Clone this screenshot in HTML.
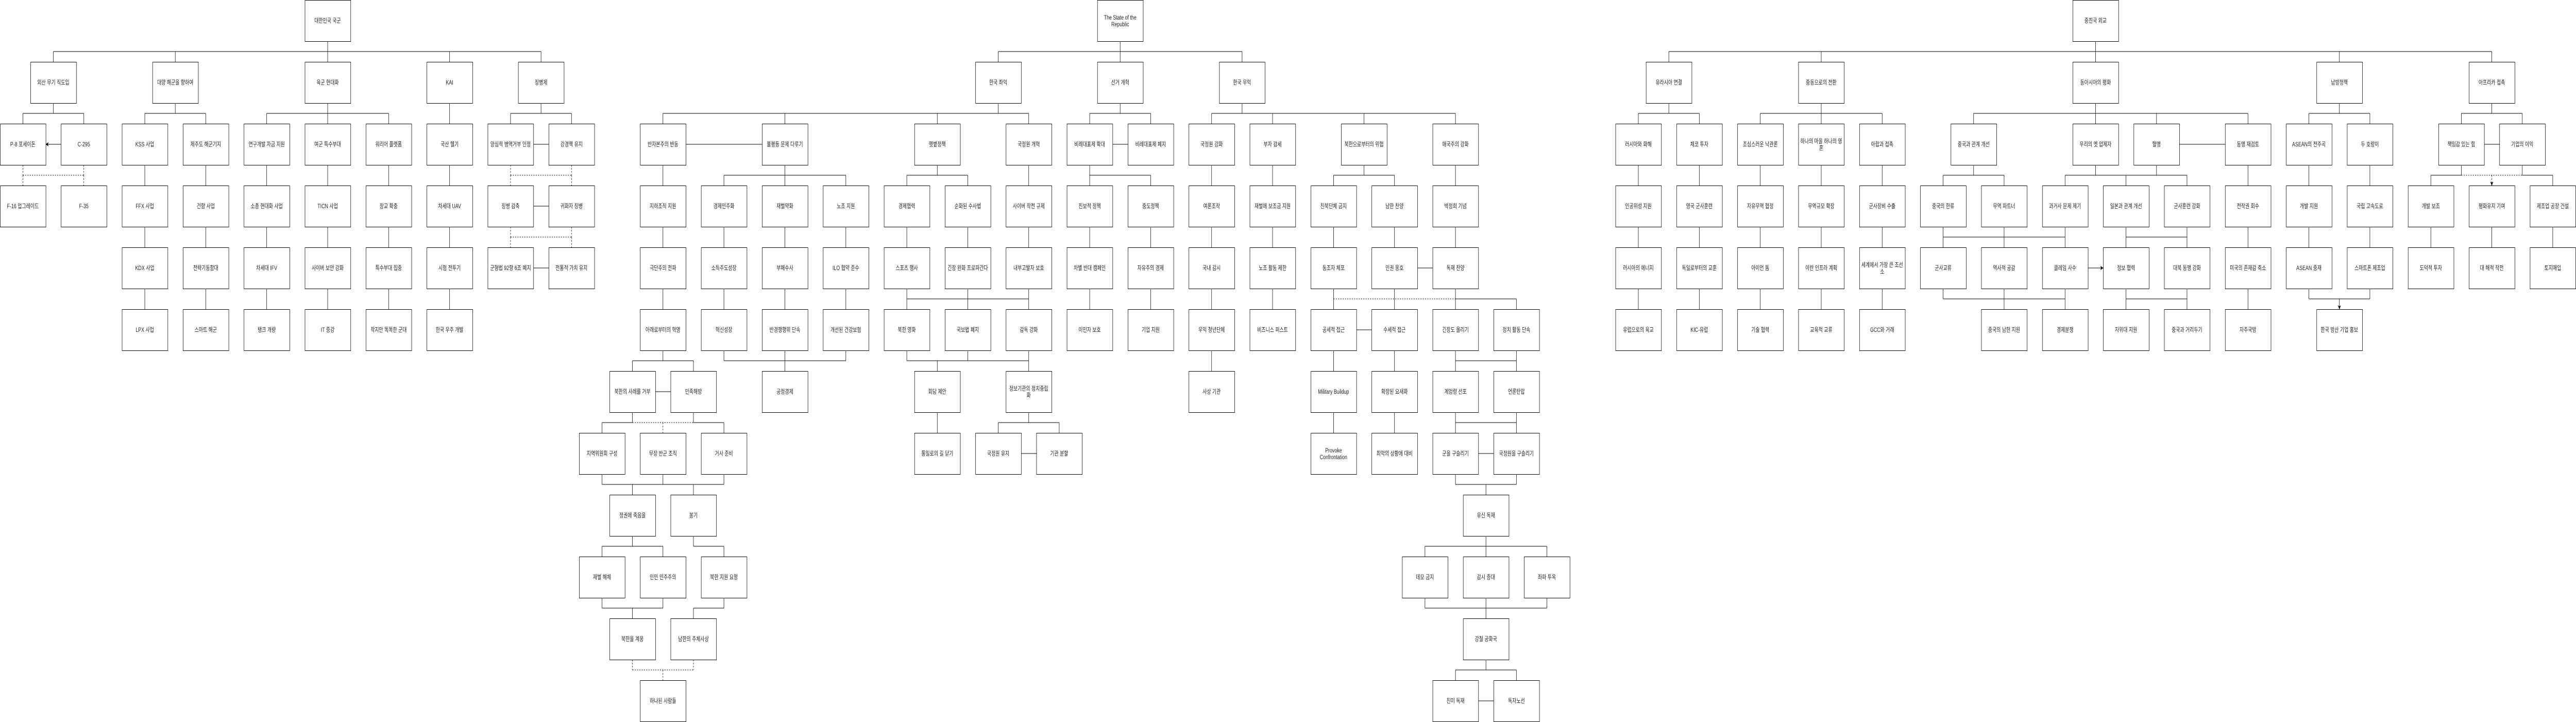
<!DOCTYPE html>
<html><head><meta charset="utf-8">
<style>
html,body{margin:0;padding:0;background:#fff;overflow:hidden;width:100%;height:100%;}
svg{position:fixed;left:0;top:0;width:100vw;height:100vh;display:block;}
text{font-family:"Liberation Sans","Noto Sans CJK KR",sans-serif;font-size:12px;fill:#222;text-anchor:middle;}
</style></head><body>
<svg viewBox="0 0 6761 1401" preserveAspectRatio="none" xmlns="http://www.w3.org/2000/svg">
<defs>
<marker id="a" markerWidth="8" markerHeight="8" refX="7.5" refY="4" orient="auto-start-reverse" markerUnits="userSpaceOnUse"><path d="M0,0L8,4L0,8L2,4z" fill="#000"/></marker>
</defs>
<rect x="0" y="0" width="6761" height="1401" fill="#fff"/>
<g stroke="#000" fill="none" stroke-width="1">
<path d="M860 80V100M140 100H1420M140 200V220M60 220H220M460 200V220M380 220H540M860 200V220M700 220H1020M1420 200V220M1340 220H1500"/>
<path d="M2940 80V100M2620 100H3260M2620 200V220M1740 220H2700M2940 200V220M2860 220H3020M3260 200V220M3180 220H3820
M2060 320V340M1900 340H2220M2460 320V340M2380 340H2540M2860 320V340H3020M3580 320V340M3500 340H3660
M2380 560V580M2540 560V580M2700 560V580M2380 580H2700M3500 560V580M3820 580H3980
M1740 680V700M1660 700H1820M1900 680V700M2060 680V700M2220 680V700M1900 700H2220M2380 680V700M2540 680V700M2700 680V700M2380 700H2700M3820 680V700M3980 680V700M3820 700H3980
M1660 800V820M1580 820H1660M1820 800V820M1820 820H1900M2700 800V820M2620 820H2780M3820 800V820M3980 800V820M3820 820H3980
M1580 920V940M1740 920V940M1900 920V940M1580 940H1900M3820 920V940M3980 920V940M3820 940H3980
M1660 1040V1060M1580 1060H1740M1820 1040V1060M1820 1060H1900M3900 1040V1060M3740 1060H4060
M1580 1160V1180M1740 1160V1180M1580 1180H1740M1900 1160V1180H1820M3740 1160V1180M3900 1160V1180M4060 1160V1180M3740 1180H4060
M3900 1280V1300M3820 1300H3980"/>
<path d="M5500 80V100M4380 100H6540M4380 200V220M4300 220H4460M4780 200V220M4620 220H4940M5500 200V220M5180 220H5900M6140 200V220M6060 220H6220M6540 200V220M6460 220H6620
M5180 320V340M5100 340H5260M5500 320V340M5660 320V340M5420 340H5740M6460 320V340M6380 340H6460M6620 320V340M6620 340H6700
M5100 440V460M5260 440V460M5420 440V460M5100 460H5420M5580 440V460M5740 440V460M5580 460H5740
M5100 560V580M5260 560V580M5420 560V580M5100 580H5420M5580 560V580M5740 560V580M5580 580H5740M6060 560V580M6220 560V580M6060 580H6220"/>
<g stroke-dasharray="3,3">
<path d="M60 320V340M220 320V340M60 340H220M1340 320V340M1500 320V340M1340 340H1500M1340 440V460M1500 440V460M1340 460H1500
M3500 580H3820M1660 820H1820M1660 1280V1300M1820 1280V1300M1660 1300H1820M6460 340H6620"/>
<path marker-end="url(#a)" d="M60 340V360M220 340V360M1340 340V360M1500 340V360M1340 460V480M1500 460V480M1740 820V840M1740 1300V1320M6540 340V360"/>
</g>
<path marker-end="url(#a)" d="M860 100V120M140 100V120M460 100V120M1180 100V120M1420 100V120
M60 220V240M220 220V240M380 220V240M540 220V240M700 220V240M860 220V240M1020 220V240M1180 200V240M1340 220V240M1500 220V240
M380 320V360M540 320V360M700 320V360M860 320V360M1020 320V360M1180 320V360
M380 440V480M540 440V480M700 440V480M860 440V480M1020 440V480M1180 440V480
M380 560V600M540 560V600M700 560V600M860 560V600M1020 560V600M1180 560V600
M2620 100V120M2940 100V120M3260 100V120
M1740 220V240M2060 220V240M2460 220V240M2700 220V240M2860 220V240M3020 220V240M3180 220V240M3340 220V240M3580 220V240M3820 220V240
M1740 320V360M2700 320V360M3180 320V360M3340 320V360M3820 320V360M1900 340V360M2060 340V360M2220 340V360M2380 340V360M2540 340V360M2860 340V360M3020 340V360M3500 340V360M3660 340V360
M1740 440V480M1900 440V480M2060 440V480M2220 440V480M2380 440V480M2540 440V480M2700 440V480M2860 440V480M3020 440V480M3180 440V480M3340 440V480M3500 440V480M3660 440V480M3820 440V480
M1740 560V600M1900 560V600M2060 560V600M2220 560V600M2860 560V600M3020 560V600M3180 560V600M3340 560V600M3660 560V600M3820 560V600
M2380 580V600M2540 580V600M2700 580V600M3500 580V600M3980 580V600
M1660 700V720M1820 700V720M2060 700V720M2460 700V720M2700 700V720M3180 680V720M3500 680V720M3660 680V720M3820 700V720M3980 700V720
M1580 820V840M1900 820V840M2460 800V840M2620 820V840M2780 820V840M3500 800V840M3660 800V840M3820 820V840M3980 820V840
M1660 940V960M1820 940V960M3900 940V960
M1580 1060V1080M1740 1060V1080M1900 1060V1080M3740 1060V1080M3900 1060V1080M4060 1060V1080
M1660 1180V1200M1820 1180V1200M3900 1180V1200
M3820 1300V1320M3980 1300V1320
M4380 100V120M4780 100V120M5500 100V120M6140 100V120M6540 100V120
M4300 220V240M4460 220V240M4620 220V240M4780 220V240M4940 220V240M5180 220V240M5500 220V240M5660 220V240M5900 220V240M6060 220V240M6220 220V240M6460 220V240M6620 220V240
M4300 320V360M4460 320V360M4620 320V360M4780 320V360M4940 320V360M5900 320V360M6060 320V360M6220 320V360M5100 340V360M5260 340V360M5420 340V360M5580 340V360M5740 340V360M6380 340V360M6700 340V360
M4300 440V480M4460 440V480M4620 440V480M4780 440V480M4940 440V480M5900 440V480M6060 440V480M6220 440V480M6380 440V480M6540 440V480M6700 440V480M5100 460V480M5260 460V480M5420 460V480M5580 460V480M5740 460V480
M4300 560V600M4460 560V600M4620 560V600M4780 560V600M4940 560V600M5900 560V600M5260 580V600M5420 580V600M5580 580V600M5740 580V600M6140 580V600"/>
<path marker-start="url(#a)" marker-end="url(#a)" d="M120 280H160M1400 280H1440M1400 400H1440M1400 520H1440
M1800 280H2000M2920 280H2960M3720 520H3760M3560 640H3600M1720 760H1760M2680 880H2720M3880 880H3920M3880 1360H3920
M5720 280H5840M6520 280H6560M5480 520H5520"/>
</g>

<g fill="#fff" stroke="#000" stroke-width="1">
<rect x="800.5" y="0.5" width="120" height="80"/>
<rect x="80.5" y="120.5" width="120" height="80"/><rect x="400.5" y="120.5" width="120" height="80"/><rect x="800.5" y="120.5" width="120" height="80"/><rect x="1120.5" y="120.5" width="120" height="80"/><rect x="1360.5" y="120.5" width="120" height="80"/>
<rect x="0.5" y="240.5" width="120" height="80"/><rect x="160.5" y="240.5" width="120" height="80"/><rect x="320.5" y="240.5" width="120" height="80"/><rect x="480.5" y="240.5" width="120" height="80"/><rect x="640.5" y="240.5" width="120" height="80"/><rect x="800.5" y="240.5" width="120" height="80"/><rect x="960.5" y="240.5" width="120" height="80"/><rect x="1120.5" y="240.5" width="120" height="80"/><rect x="1280.5" y="240.5" width="120" height="80"/><rect x="1440.5" y="240.5" width="120" height="80"/>
<rect x="0.5" y="360.5" width="120" height="80"/><rect x="160.5" y="360.5" width="120" height="80"/><rect x="320.5" y="360.5" width="120" height="80"/><rect x="480.5" y="360.5" width="120" height="80"/><rect x="640.5" y="360.5" width="120" height="80"/><rect x="800.5" y="360.5" width="120" height="80"/><rect x="960.5" y="360.5" width="120" height="80"/><rect x="1120.5" y="360.5" width="120" height="80"/><rect x="1280.5" y="360.5" width="120" height="80"/><rect x="1440.5" y="360.5" width="120" height="80"/>
<rect x="320.5" y="480.5" width="120" height="80"/><rect x="480.5" y="480.5" width="120" height="80"/><rect x="640.5" y="480.5" width="120" height="80"/><rect x="800.5" y="480.5" width="120" height="80"/><rect x="960.5" y="480.5" width="120" height="80"/><rect x="1120.5" y="480.5" width="120" height="80"/><rect x="1280.5" y="480.5" width="120" height="80"/><rect x="1440.5" y="480.5" width="120" height="80"/>
<rect x="320.5" y="600.5" width="120" height="80"/><rect x="480.5" y="600.5" width="120" height="80"/><rect x="640.5" y="600.5" width="120" height="80"/><rect x="800.5" y="600.5" width="120" height="80"/><rect x="960.5" y="600.5" width="120" height="80"/><rect x="1120.5" y="600.5" width="120" height="80"/>

<rect x="2880.5" y="0.5" width="120" height="80"/>
<rect x="2560.5" y="120.5" width="120" height="80"/><rect x="2880.5" y="120.5" width="120" height="80"/><rect x="3200.5" y="120.5" width="120" height="80"/>
<rect x="1680.5" y="240.5" width="120" height="80"/><rect x="2000.5" y="240.5" width="120" height="80"/><rect x="2400.5" y="240.5" width="120" height="80"/><rect x="2640.5" y="240.5" width="120" height="80"/><rect x="2800.5" y="240.5" width="120" height="80"/><rect x="2960.5" y="240.5" width="120" height="80"/><rect x="3120.5" y="240.5" width="120" height="80"/><rect x="3280.5" y="240.5" width="120" height="80"/><rect x="3520.5" y="240.5" width="120" height="80"/><rect x="3760.5" y="240.5" width="120" height="80"/>
<rect x="1680.5" y="360.5" width="120" height="80"/><rect x="1840.5" y="360.5" width="120" height="80"/><rect x="2000.5" y="360.5" width="120" height="80"/><rect x="2160.5" y="360.5" width="120" height="80"/><rect x="2320.5" y="360.5" width="120" height="80"/><rect x="2480.5" y="360.5" width="120" height="80"/><rect x="2640.5" y="360.5" width="120" height="80"/><rect x="2800.5" y="360.5" width="120" height="80"/><rect x="2960.5" y="360.5" width="120" height="80"/><rect x="3120.5" y="360.5" width="120" height="80"/><rect x="3280.5" y="360.5" width="120" height="80"/><rect x="3440.5" y="360.5" width="120" height="80"/><rect x="3600.5" y="360.5" width="120" height="80"/><rect x="3760.5" y="360.5" width="120" height="80"/>
<rect x="1680.5" y="480.5" width="120" height="80"/><rect x="1840.5" y="480.5" width="120" height="80"/><rect x="2000.5" y="480.5" width="120" height="80"/><rect x="2160.5" y="480.5" width="120" height="80"/><rect x="2320.5" y="480.5" width="120" height="80"/><rect x="2480.5" y="480.5" width="120" height="80"/><rect x="2640.5" y="480.5" width="120" height="80"/><rect x="2800.5" y="480.5" width="120" height="80"/><rect x="2960.5" y="480.5" width="120" height="80"/><rect x="3120.5" y="480.5" width="120" height="80"/><rect x="3280.5" y="480.5" width="120" height="80"/><rect x="3440.5" y="480.5" width="120" height="80"/><rect x="3600.5" y="480.5" width="120" height="80"/><rect x="3760.5" y="480.5" width="120" height="80"/>
<rect x="1680.5" y="600.5" width="120" height="80"/><rect x="1840.5" y="600.5" width="120" height="80"/><rect x="2000.5" y="600.5" width="120" height="80"/><rect x="2160.5" y="600.5" width="120" height="80"/><rect x="2320.5" y="600.5" width="120" height="80"/><rect x="2480.5" y="600.5" width="120" height="80"/><rect x="2640.5" y="600.5" width="120" height="80"/><rect x="2800.5" y="600.5" width="120" height="80"/><rect x="2960.5" y="600.5" width="120" height="80"/><rect x="3120.5" y="600.5" width="120" height="80"/><rect x="3280.5" y="600.5" width="120" height="80"/><rect x="3440.5" y="600.5" width="120" height="80"/><rect x="3600.5" y="600.5" width="120" height="80"/><rect x="3760.5" y="600.5" width="120" height="80"/><rect x="3920.5" y="600.5" width="120" height="80"/>
<rect x="1600.5" y="720.5" width="120" height="80"/><rect x="1760.5" y="720.5" width="120" height="80"/><rect x="2000.5" y="720.5" width="120" height="80"/><rect x="2400.5" y="720.5" width="120" height="80"/><rect x="2640.5" y="720.5" width="120" height="80"/><rect x="3120.5" y="720.5" width="120" height="80"/><rect x="3440.5" y="720.5" width="120" height="80"/><rect x="3600.5" y="720.5" width="120" height="80"/><rect x="3760.5" y="720.5" width="120" height="80"/><rect x="3920.5" y="720.5" width="120" height="80"/>
<rect x="1520.5" y="840.5" width="120" height="80"/><rect x="1680.5" y="840.5" width="120" height="80"/><rect x="1840.5" y="840.5" width="120" height="80"/><rect x="2400.5" y="840.5" width="120" height="80"/><rect x="2560.5" y="840.5" width="120" height="80"/><rect x="2720.5" y="840.5" width="120" height="80"/><rect x="3440.5" y="840.5" width="120" height="80"/><rect x="3600.5" y="840.5" width="120" height="80"/><rect x="3760.5" y="840.5" width="120" height="80"/><rect x="3920.5" y="840.5" width="120" height="80"/>
<rect x="1600.5" y="960.5" width="120" height="80"/><rect x="1760.5" y="960.5" width="120" height="80"/><rect x="3840.5" y="960.5" width="120" height="80"/>
<rect x="1520.5" y="1080.5" width="120" height="80"/><rect x="1680.5" y="1080.5" width="120" height="80"/><rect x="1840.5" y="1080.5" width="120" height="80"/><rect x="3680.5" y="1080.5" width="120" height="80"/><rect x="3840.5" y="1080.5" width="120" height="80"/><rect x="4000.5" y="1080.5" width="120" height="80"/>
<rect x="1600.5" y="1200.5" width="120" height="80"/><rect x="1760.5" y="1200.5" width="120" height="80"/><rect x="3840.5" y="1200.5" width="120" height="80"/>
<rect x="1680.5" y="1320.5" width="120" height="80"/><rect x="3760.5" y="1320.5" width="120" height="80"/><rect x="3920.5" y="1320.5" width="120" height="80"/>

<rect x="5440.5" y="0.5" width="120" height="80"/>
<rect x="4320.5" y="120.5" width="120" height="80"/><rect x="4720.5" y="120.5" width="120" height="80"/><rect x="5440.5" y="120.5" width="120" height="80"/><rect x="6080.5" y="120.5" width="120" height="80"/><rect x="6480.5" y="120.5" width="120" height="80"/>
<rect x="4240.5" y="240.5" width="120" height="80"/><rect x="4400.5" y="240.5" width="120" height="80"/><rect x="4560.5" y="240.5" width="120" height="80"/><rect x="4720.5" y="240.5" width="120" height="80"/><rect x="4880.5" y="240.5" width="120" height="80"/><rect x="5120.5" y="240.5" width="120" height="80"/><rect x="5440.5" y="240.5" width="120" height="80"/><rect x="5600.5" y="240.5" width="120" height="80"/><rect x="5840.5" y="240.5" width="120" height="80"/><rect x="6000.5" y="240.5" width="120" height="80"/><rect x="6160.5" y="240.5" width="120" height="80"/><rect x="6400.5" y="240.5" width="120" height="80"/><rect x="6560.5" y="240.5" width="120" height="80"/>
<rect x="4240.5" y="360.5" width="120" height="80"/><rect x="4400.5" y="360.5" width="120" height="80"/><rect x="4560.5" y="360.5" width="120" height="80"/><rect x="4720.5" y="360.5" width="120" height="80"/><rect x="4880.5" y="360.5" width="120" height="80"/><rect x="5040.5" y="360.5" width="120" height="80"/><rect x="5200.5" y="360.5" width="120" height="80"/><rect x="5360.5" y="360.5" width="120" height="80"/><rect x="5520.5" y="360.5" width="120" height="80"/><rect x="5680.5" y="360.5" width="120" height="80"/><rect x="5840.5" y="360.5" width="120" height="80"/><rect x="6000.5" y="360.5" width="120" height="80"/><rect x="6160.5" y="360.5" width="120" height="80"/><rect x="6320.5" y="360.5" width="120" height="80"/><rect x="6480.5" y="360.5" width="120" height="80"/><rect x="6640.5" y="360.5" width="120" height="80"/>
<rect x="4240.5" y="480.5" width="120" height="80"/><rect x="4400.5" y="480.5" width="120" height="80"/><rect x="4560.5" y="480.5" width="120" height="80"/><rect x="4720.5" y="480.5" width="120" height="80"/><rect x="4880.5" y="480.5" width="120" height="80"/><rect x="5040.5" y="480.5" width="120" height="80"/><rect x="5200.5" y="480.5" width="120" height="80"/><rect x="5360.5" y="480.5" width="120" height="80"/><rect x="5520.5" y="480.5" width="120" height="80"/><rect x="5680.5" y="480.5" width="120" height="80"/><rect x="5840.5" y="480.5" width="120" height="80"/><rect x="6000.5" y="480.5" width="120" height="80"/><rect x="6160.5" y="480.5" width="120" height="80"/><rect x="6320.5" y="480.5" width="120" height="80"/><rect x="6480.5" y="480.5" width="120" height="80"/><rect x="6640.5" y="480.5" width="120" height="80"/>
<rect x="4240.5" y="600.5" width="120" height="80"/><rect x="4400.5" y="600.5" width="120" height="80"/><rect x="4560.5" y="600.5" width="120" height="80"/><rect x="4720.5" y="600.5" width="120" height="80"/><rect x="4880.5" y="600.5" width="120" height="80"/><rect x="5200.5" y="600.5" width="120" height="80"/><rect x="5360.5" y="600.5" width="120" height="80"/><rect x="5520.5" y="600.5" width="120" height="80"/><rect x="5680.5" y="600.5" width="120" height="80"/><rect x="5840.5" y="600.5" width="120" height="80"/><rect x="6080.5" y="600.5" width="120" height="80"/>
</g>

<g>
<text x="860" y="44">대한민국 국군</text>
<text x="140" y="164">외산 무기 직도입</text><text x="460" y="164">대양 해군을 향하여</text><text x="860" y="164">육군 현대화</text><text x="1180" y="164">KAI</text><text x="1420" y="164">징병제</text>
<text x="60" y="284">P-8 포세이돈</text><text x="220" y="284">C-295</text><text x="380" y="284">KSS 사업</text><text x="540" y="284">제주도 해군기지</text><text x="700" y="284">연구개발 자금 지원</text><text x="860" y="284">여군 특수부대</text><text x="1020" y="284">워리어 플랫폼</text><text x="1180" y="284">국산 헬기</text><text x="1340" y="284">양심적 병역거부 인정</text><text x="1500" y="284">강경책 유지</text>
<text x="60" y="404">F-16 업그레이드</text><text x="220" y="404">F-35</text><text x="380" y="404">FFX 사업</text><text x="540" y="404">건함 사업</text><text x="700" y="404">소총 현대화 사업</text><text x="860" y="404">TICN 사업</text><text x="1020" y="404">장교 확충</text><text x="1180" y="404">차세대 UAV</text><text x="1340" y="404">징병 감축</text><text x="1500" y="404">귀화자 징병</text>
<text x="380" y="524">KDX 사업</text><text x="540" y="524">전략기동함대</text><text x="700" y="524">차세대 IFV</text><text x="860" y="524">사이버 보안 강화</text><text x="1020" y="524">특수부대 집중</text><text x="1180" y="524">시험 전투기</text><text x="1340" y="524">군형법 92항 6조 폐지</text><text x="1500" y="524">전통적 가치 유지</text>
<text x="380" y="644">LPX 사업</text><text x="540" y="644">스마트 해군</text><text x="700" y="644">탱크 개량</text><text x="860" y="644">IT 증강</text><text x="1020" y="644">작지만 똑똑한 군대</text><text x="1180" y="644">한국 우주 개발</text>

<text x="2940" y="38">The State of the</text><text x="2940" y="51">Republic</text>
<text x="2620" y="164">한국 좌익</text><text x="2940" y="164">선거 개혁</text><text x="3260" y="164">한국 우익</text>
<text x="1740" y="284">반자본주의 반동</text><text x="2060" y="284">불평등 문제 다루기</text><text x="2460" y="284">햇볕정책</text><text x="2700" y="284">국정원 개혁</text><text x="2860" y="284">비례대표제 확대</text><text x="3020" y="284">비례대표제 폐지</text><text x="3180" y="284">국정원 강화</text><text x="3340" y="284">부자 감세</text><text x="3580" y="284">북한으로부터의 위협</text><text x="3820" y="284">애국주의 강화</text>
<text x="1740" y="404">지하조직 지원</text><text x="1900" y="404">경제민주화</text><text x="2060" y="404">재벌약화</text><text x="2220" y="404">노조 지원</text><text x="2380" y="404">경제협력</text><text x="2540" y="404">순화된 수사법</text><text x="2700" y="404">사이버 작전 규제</text><text x="2860" y="404">진보적 정책</text><text x="3020" y="404">중도정책</text><text x="3180" y="404">여론조작</text><text x="3340" y="404">재벌에 보조금 지원</text><text x="3500" y="404">친북단체 금지</text><text x="3660" y="404">남한 찬양</text><text x="3820" y="404">박정희 기념</text>
<text x="1740" y="524">극단주의 전파</text><text x="1900" y="524">소득주도성장</text><text x="2060" y="524">부패수사</text><text x="2220" y="524">ILO 협약 준수</text><text x="2380" y="524">스포츠 행사</text><text x="2540" y="524">긴장 완화 프로파간다</text><text x="2700" y="524">내부고발자 보호</text><text x="2860" y="524">차별 반대 캠페인</text><text x="3020" y="524">자유주의 경제</text><text x="3180" y="524">국내 감시</text><text x="3340" y="524">노조 활동 제한</text><text x="3500" y="524">동조자 체포</text><text x="3660" y="524">인권 옹호</text><text x="3820" y="524">독재 찬양</text>
<text x="1740" y="644">아래로부터의 혁명</text><text x="1900" y="644">혁신성장</text><text x="2060" y="644">반경쟁행위 단속</text><text x="2220" y="644">개선된 건강보험</text><text x="2380" y="644">북한 영화</text><text x="2540" y="644">국보법 폐지</text><text x="2700" y="644">감독 강화</text><text x="2860" y="644">이민자 보호</text><text x="3020" y="644">기업 지원</text><text x="3180" y="644">우익 청년단체</text><text x="3340" y="644">비즈니스 퍼스트</text><text x="3500" y="644">공세적 접근</text><text x="3660" y="644">수세적 접근</text><text x="3820" y="644">긴장도 올리기</text><text x="3980" y="644">정치 활동 단속</text>
<text x="1660" y="764">북한의 사례를 거부</text><text x="1820" y="764">민족해방</text><text x="2060" y="764">공정경제</text><text x="2460" y="764">회담 제안</text><text x="2700" y="758">정보기관의 정치중립</text><text x="2700" y="771">화</text><text x="3180" y="764">사상 기관</text><text x="3500" y="764">Military Buildup</text><text x="3660" y="764">확장된 요새화</text><text x="3820" y="764">계엄령 선포</text><text x="3980" y="764">언론탄압</text>
<text x="1580" y="884">지역위원회 구성</text><text x="1740" y="884">무장 반군 조직</text><text x="1900" y="884">거사 준비</text><text x="2460" y="884">통일로의 길 닫기</text><text x="2620" y="884">국정원 유지</text><text x="2780" y="884">기관 분할</text><text x="3500" y="878">Provoke</text><text x="3500" y="891">Confrontation</text><text x="3660" y="884">최악의 상황에 대비</text><text x="3820" y="884">군을 구슬리기</text><text x="3980" y="884">국정원을 구슬리기</text>
<text x="1660" y="1004">정권에 죽음을</text><text x="1820" y="1004">봉기</text><text x="3900" y="1004">유신 독재</text>
<text x="1580" y="1124">재벌 해체</text><text x="1740" y="1124">인민 민주주의</text><text x="1900" y="1124">북한 지원 요청</text><text x="3740" y="1124">데모 금지</text><text x="3900" y="1124">감시 증대</text><text x="4060" y="1124">좌파 투옥</text>
<text x="1660" y="1244">북한을 계몽</text><text x="1820" y="1244">남한의 주체사상</text><text x="3900" y="1244">강철 공화국</text>
<text x="1740" y="1364">하나된 사람들</text><text x="3820" y="1364">친미 독재</text><text x="3980" y="1364">독자노선</text>

<text x="5500" y="44">중진국 외교</text>
<text x="4380" y="164">유라시아 연결</text><text x="4780" y="164">중동으로의 전환</text><text x="5500" y="164">동아시아의 평화</text><text x="6140" y="164">남방정책</text><text x="6540" y="164">아프리카 접촉</text>
<text x="4300" y="284">러시아와 화해</text><text x="4460" y="284">체코 투자</text><text x="4620" y="284">조심스러운 낙관론</text><text x="4780" y="278">하나의 마을 하나의 영</text><text x="4780" y="291">혼</text><text x="4940" y="284">아랍과 접촉</text><text x="5180" y="284">중국과 관계 개선</text><text x="5500" y="284">우리의 옛 압제자</text><text x="5660" y="284">혈맹</text><text x="5900" y="284">동맹 재검토</text><text x="6060" y="284">ASEAN의 전주곡</text><text x="6220" y="284">두 호랑이</text><text x="6460" y="284">책임감 있는 힘</text><text x="6620" y="284">기업의 이익</text>
<text x="4300" y="404">인공위성 지원</text><text x="4460" y="404">영국 군사훈련</text><text x="4620" y="404">자유무역 협정</text><text x="4780" y="404">무역규모 확장</text><text x="4940" y="404">군사장비 수출</text><text x="5100" y="404">중국의 한류</text><text x="5260" y="404">무역 파트너</text><text x="5420" y="404">과거사 문제 제기</text><text x="5580" y="404">일본과 관계 개선</text><text x="5740" y="404">군사훈련 강화</text><text x="5900" y="404">전작권 회수</text><text x="6060" y="404">개발 지원</text><text x="6220" y="404">국립 고속도로</text><text x="6380" y="404">개발 보조</text><text x="6540" y="404">평화유지 기여</text><text x="6700" y="404">제조업 공장 건설</text>
<text x="4300" y="524">러시아의 에너지</text><text x="4460" y="524">독일로부터의 교훈</text><text x="4620" y="524">아이언 돔</text><text x="4780" y="524">이란 인프라 계획</text><text x="4940" y="518">세계에서 가장 큰 조선</text><text x="4940" y="531">소</text><text x="5100" y="524">군사교류</text><text x="5260" y="524">역사적 공감</text><text x="5420" y="524">클레임 사수</text><text x="5580" y="524">정보 협력</text><text x="5740" y="524">대북 동맹 강화</text><text x="5900" y="524">미국의 존재감 축소</text><text x="6060" y="524">ASEAN 중재</text><text x="6220" y="524">스마트폰 제조업</text><text x="6380" y="524">도덕적 투자</text><text x="6540" y="524">대 해적 작전</text><text x="6700" y="524">토지매입</text>
<text x="4300" y="644">유럽으로의 육교</text><text x="4460" y="644">KIC-유럽</text><text x="4620" y="644">기술 협력</text><text x="4780" y="644">교육적 교류</text><text x="4940" y="644">GCC와 거래</text><text x="5260" y="644">중국의 남한 지원</text><text x="5420" y="644">경제분쟁</text><text x="5580" y="644">자위대 지원</text><text x="5740" y="644">중국과 거리두기</text><text x="5900" y="644">자주국방</text><text x="6140" y="644">한국 방산 기업 홍보</text>
</g>
</svg>
</body></html>
